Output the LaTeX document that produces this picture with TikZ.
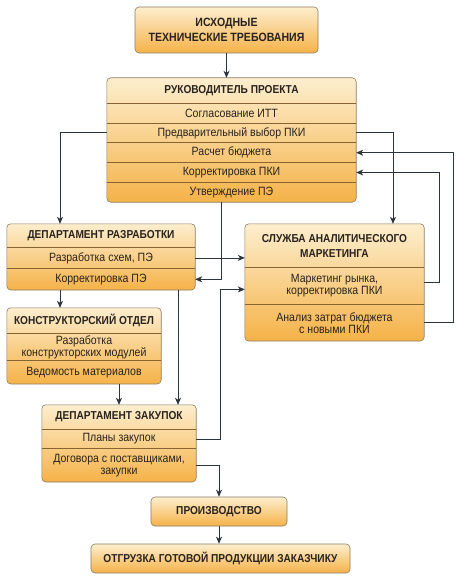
\documentclass[tikz,border=0pt]{standalone}
\usepackage{fontspec}
\setmainfont[FakeStretch=0.88]{Liberation Sans}
\usetikzlibrary{positioning,fit,backgrounds,arrows.meta}
\definecolor{boxtop}{RGB}{253,238,206}
\definecolor{boxbot}{RGB}{245,178,72}
\definecolor{boxline}{RGB}{140,125,100}
\definecolor{sepline}{RGB}{135,100,50}
\definecolor{linkc}{RGB}{45,52,60}
\definecolor{txt}{RGB}{40,35,30}
\tikzset{
	block/.style={draw=boxline,line width=0.6pt,rounded corners=4pt,top color=boxtop,bottom color=boxbot,inner sep=0pt},
	head/.style={font=\fontsize{11.5}{15}\selectfont\bfseries,text=txt,align=center,inner sep=0pt},
	item/.style={font=\fontsize{12}{12}\selectfont,text=txt,align=center,inner sep=0pt},
	cell/.style 2 args={minimum width=#1,minimum height=#2},
	link/.style={draw=linkc,line width=0.8pt,-{Stealth[length=7pt,width=6pt,inset=2pt]}},
	sep/.style={draw=sepline,line width=0.6pt}
}
\begin{document}
\begin{tikzpicture}[x=1pt,y=-1pt]
	\useasboundingbox (0,0) rectangle (459,577);
	\node[block,head,cell={183}{46},font=\fontsize{12}{15}\selectfont\bfseries](itt) at (226.5,30) {ИСХОДНЫЕ\\ТЕХНИЧЕСКИЕ ТРЕБОВАНИЯ};
	\node[head,cell={249}{25}](pm) at (231.5,90.5) {РУКОВОДИТЕЛЬ ПРОЕКТА};
	\node[item,cell={249}{19.4}](pm1)[below=0pt of pm] {Согласование ИТТ};
	\node[item,cell={249}{19.4}](pm2)[below=0pt of pm1] {Предварительный выбор ПКИ};
	\node[item,cell={249}{19.4}](pm3)[below=0pt of pm2] {Расчет бюджета};
	\node[item,cell={249}{19.4}](pm4)[below=0pt of pm3] {Корректировка ПКИ};
	\node[item,cell={249}{19.4}](pm5)[below=0pt of pm4] {Утверждение ПЭ};
	\node[head,cell={188}{23}](dev) at (101,235.5) {ДЕПАРТАМЕНТ РАЗРАБОТКИ};
	\node[item,cell={188}{21}](dev1)[below=0pt of dev] {Разработка схем, ПЭ};
	\node[item,cell={188}{21}](dev2)[below=0pt of dev1] {Корректировка ПЭ};
	\node[head,cell={179}{43}](mk) at (334.5,245.5) {СЛУЖБА АНАЛИТИЧЕСКОГО\\МАРКЕТИНГА};
	\node[item,cell={179}{37}](mk1)[below=0pt of mk] {Маркетинг рынка,\\корректировка ПКИ};
	\node[item,cell={179}{36}](mk2)[below=0pt of mk1] {Анализ затрат бюджета\\с новыми ПКИ};
	\node[head,cell={154}{25}](kon) at (84,320.5) {КОНСТРУКТОРСКИЙ ОТДЕЛ};
	\node[item,cell={154}{27}](kon1)[below=0pt of kon] {Разработка\\конструкторских модулей};
	\node[item,cell={154}{23}](kon2)[below=0pt of kon1] {Ведомость материалов};
	\node[head,cell={154}{24}](zak) at (119,417) {ДЕПАРТАМЕНТ ЗАКУПОК};
	\node[item,cell={154}{19}](zak1)[below=0pt of zak] {Планы закупок};
	\node[item,cell={154}{33}](zak2)[below=0pt of zak1] {Договора с поставщиками,\\закупки};
	\node[block,head,cell={136}{29}](prod) at (219,511.5) {ПРОИЗВОДСТВО};
	\node[block,head,cell={259}{29}](otg) at (220.5,558.5) {ОТГРУЗКА ГОТОВОЙ ПРОДУКЦИИ ЗАКАЗЧИКУ};
	\begin{scope}[on background layer]
		\fill[white] (0,0) rectangle (459,577);
		\node[block,fit=(pm)(pm5)](pmbox) {};
		\node[block,fit=(dev)(dev2)](devbox) {};
		\node[block,fit=(mk)(mk2)](mkbox) {};
		\node[block,fit=(kon)(kon2)](konbox) {};
		\node[block,fit=(zak)(zak2)](zakbox) {};
	\end{scope}
	\foreach \r in {pm1,pm2,pm3,pm4,pm5,dev1,dev2,mk1,mk2,kon1,kon2,zak1,zak2}
		\draw[sep] (\r.north west) -- (\r.north east);
	\draw[link] (itt.south) -- (itt.south |- pm.north);
	\draw[link] (pm2.west) -| ([xshift=-41pt]dev.north);
	\draw[link] (pm2.east) -| ([xshift=58.5pt]mk.north);
	\draw[link] (mk2.east) -- ++(29,0) |- (pm3.east);
	\draw[link] ([yshift=3.5pt]mk1.east) -- ++(15,0) |- (pm4.east);
	\draw[link] ([xshift=-10.5pt]pm5.south) |- (dev2.east);
	\draw[link] (dev1.east) -- (dev1.east -| mk.west);
	\draw[link] (zak1.east) -- ++(24,0) |- ([yshift=-3.5pt]mk1.west);
	\draw[link] ([xshift=-41pt]dev2.south) -- ([xshift=-41pt]dev2.south |- kon.north);
	\draw[link] (kon2.south -| zak.north) -- (zak.north);
	\draw[link] ([xshift=77pt]dev2.south) -- ([xshift=77pt]dev2.south |- zak.north);
	\draw[link] (zak2.east) -| (prod.north);
	\draw[link] (prod.south) -- (prod.south |- otg.north);
\end{tikzpicture}
\end{document}
